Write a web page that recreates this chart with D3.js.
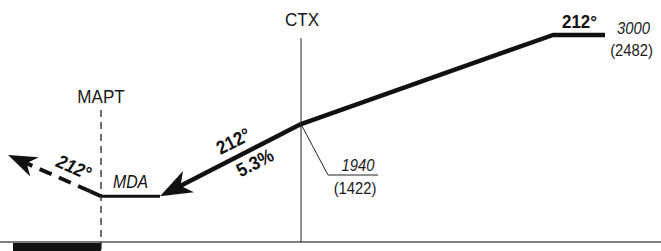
<!DOCTYPE html>
<html><head><meta charset="utf-8">
<script src="https://cdn.jsdelivr.net/npm/d3@7"></script>
<style>
html,body{margin:0;padding:0;background:#fff;}
svg{display:block;font-family:"Liberation Sans",Arial,Helvetica,sans-serif;}
</style></head>
<body>
<script>
// ---- data (distance in NM from MAPT, altitude in ft) ----
const fixNames = ["MAPT", "CTX"];
const fixDist = [0, 2.0];
const levelDist = [0, 0.59];
const levelAlt = [1080, 1080];
const descentDist = [2.0, 0.59];
const descentAlt = [1940, 1080];
const climbDist = [2.0, 4.52, 5.04];
const climbAlt = [1940, 3000, 3000];
const missedDist = [0, -0.93];
const missedAlt = [1080, 1570];
const courseLabel = "212°";
const gradientLabel = "5.3%";
const mdaLabel = "MDA";
const ctxAltLabels = ["1940", "(1422)"];
const topAltLabels = ["3000", "(2482)"];
const groundAlt = 535;

const W = 661, H = 251;
const x = d3.scaleLinear().domain([-1.01, 5.6]).range([0, 661]);
const y = d3.scaleLinear().domain([groundAlt, 3000]).range([242, 35]);

const svg = d3.select("body").append("svg").attr("width", W).attr("height", H);

function label(parent, tx, ty, str, o) {
  o = o || {};
  const t = parent.append("text")
    .attr("transform", `translate(${tx},${ty}) scale(${o.sx || 0.9},1)`)
    .attr("text-anchor", o.anchor || "middle")
    .attr("font-size", o.size || 17)
    .attr("fill", o.fill || "#1a1a1a")
    .text(str);
  if (o.bold) t.attr("font-weight", "bold");
  if (o.italic) t.attr("font-style", "italic");
  return t;
}

// ground line and black bar
svg.append("line").attr("x1", 0).attr("x2", W).attr("y1", y(groundAlt)).attr("y2", y(groundAlt))
  .attr("stroke", "#555").attr("stroke-width", 1.4);
svg.append("rect").attr("x", x(-0.88)).attr("y", y(groundAlt) + 1).attr("width", x(0) - x(-0.88)).attr("height", H - y(groundAlt) - 1)
  .attr("fill", "#111");

// MAPT dashed vertical
svg.append("line").attr("x1", x(fixDist[0])).attr("x2", x(fixDist[0])).attr("y1", 110).attr("y2", H)
  .attr("stroke", "#222").attr("stroke-width", 1.3).attr("stroke-dasharray", "7,5");
// CTX vertical
svg.append("line").attr("x1", x(fixDist[1])).attr("x2", x(fixDist[1])).attr("y1", 38).attr("y2", y(groundAlt))
  .attr("stroke", "#333").attr("stroke-width", 1.1);

// fix labels
label(svg, x(fixDist[0]), 103, fixNames[0], { size: 19, sx: 0.9 });
label(svg, x(fixDist[1]) + 1, 26, fixNames[1], { size: 19, sx: 0.9 });

const line = d3.line().x(d => x(d[0])).y(d => y(d[1]));

// climb profile
svg.append("path").attr("d", line(d3.zip(climbDist, climbAlt)))
  .attr("fill", "none").attr("stroke", "#111").attr("stroke-width", 4.5).attr("stroke-linejoin", "round");
// level segment
svg.append("path").attr("d", line(d3.zip(levelDist, levelAlt)))
  .attr("fill", "none").attr("stroke", "#111").attr("stroke-width", 3.2);

function arrow(x0, y0, x1, y1, len, half, notch, sw, dash) {
  const a = Math.atan2(y1 - y0, x1 - x0);
  const ux = Math.cos(a), uy = Math.sin(a), px = -uy, py = ux;
  const bx = x1 - ux * len, by = y1 - uy * len;
  const nx = x1 - ux * len * notch, ny = y1 - uy * len * notch;
  svg.append("line").attr("x1", x0).attr("y1", y0).attr("x2", nx + ux * 2).attr("y2", ny + uy * 2)
    .attr("stroke", "#111").attr("stroke-width", sw).attr("stroke-dasharray", dash || null);
  svg.append("path").attr("d", `M${x1},${y1}L${bx + px * half},${by + py * half}L${nx},${ny}L${bx - px * half},${by - py * half}Z`)
    .attr("fill", "#111");
}

// descent arrow
arrow(x(descentDist[0]), y(descentAlt[0]), x(descentDist[1]), y(descentAlt[1]), 32, 12, 0.72, 4.5);
// missed approach dashed arrow
svg.append("path").attr("d", `M${x(missedDist[0])},${y(missedAlt[0])}L${x(missedDist[0]) - 11},${y(missedAlt[0]) - 5}`)
  .attr("stroke", "#111").attr("stroke-width", 4).attr("fill", "none");
arrow(x(missedDist[0]) - 11, y(missedAlt[0]) - 5, x(missedDist[1]), y(missedAlt[1]), 29, 10.5, 0.7, 4, "13,8");

// descent labels
{
  const x0 = x(descentDist[1]), y0 = y(descentAlt[1]), x1 = x(descentDist[0]), y1 = y(descentAlt[0]);
  const ang = Math.atan2(y1 - y0, x1 - x0) * 180 / Math.PI;
  const g1 = svg.append("g").attr("transform", `translate(${x0 + (x1 - x0) * 0.57},${y0 + (y1 - y0) * 0.57}) rotate(${ang})`);
  label(g1, 0, -9, courseLabel, { size: 19, sx: 0.9, bold: true, fill: "#111" });
  const g2 = svg.append("g").attr("transform", `translate(${x0 + (x1 - x0) * 0.63},${y0 + (y1 - y0) * 0.63}) rotate(${ang})`);
  label(g2, 0, 20, gradientLabel, { size: 19, sx: 0.9, bold: true, fill: "#111" });
}
// missed approach label
{
  const x0 = x(missedDist[1]), y0 = y(missedAlt[1]), x1 = x(missedDist[0]), y1 = y(missedAlt[0]);
  const ang = Math.atan2(y1 - y0, x1 - x0) * 180 / Math.PI;
  const g = svg.append("g").attr("transform", `translate(${x0 + (x1 - x0) * 0.64},${y0 + (y1 - y0) * 0.64}) rotate(${ang})`);
  label(g, 0, -9, courseLabel, { size: 19, sx: 0.9, bold: true, italic: true, fill: "#111" });
}
// MDA
label(svg, x(0) + 12, 188, mdaLabel, { size: 18, sx: 0.88, italic: true, anchor: "start", fill: "#111" });

// top labels
label(svg, x(climbDist[2]) - 8, 28, courseLabel, { size: 18, sx: 0.94, bold: true, anchor: "end", fill: "#111" });
label(svg, 633.5, 34, topAltLabels[0], { size: 17, sx: 0.87, italic: true });
label(svg, 631.5, 56, topAltLabels[1], { size: 17, sx: 0.87 });

// CTX altitude leader
{
  const cx = x(climbDist[0]) + 1, cy = y(climbAlt[0]) + 2;
  svg.append("path").attr("d", `M${cx},${cy}L${cx + 26},${cy + 49}L${cx + 76},${cy + 49}`)
    .attr("fill", "none").attr("stroke", "#222").attr("stroke-width", 1);
  label(svg, cx + 56, cy + 45, ctxAltLabels[0], { size: 17, sx: 0.87, italic: true });
  label(svg, cx + 53, cy + 68, ctxAltLabels[1], { size: 17, sx: 0.87 });
}
</script>
</body></html>
